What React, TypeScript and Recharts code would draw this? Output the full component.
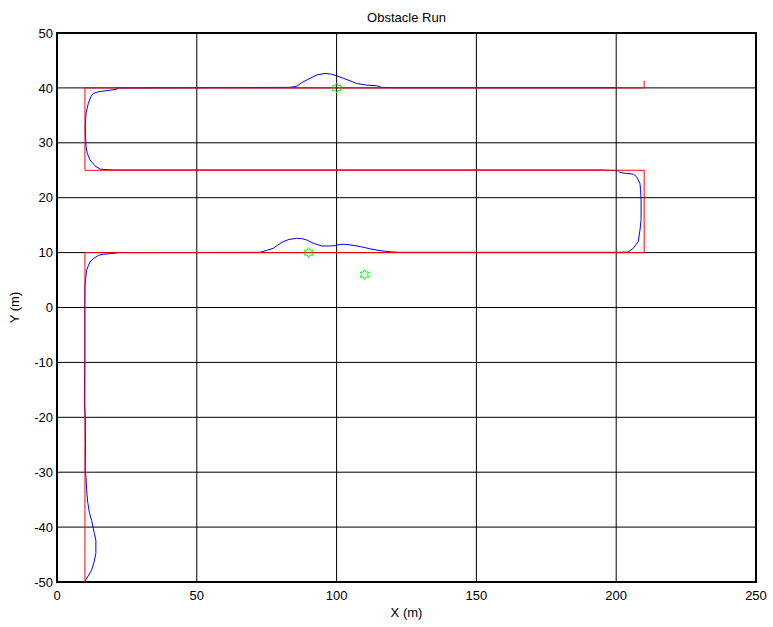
import React from 'react';
import { ComposedChart, Line, Scatter, XAxis, YAxis, CartesianGrid, ReferenceArea } from 'recharts';

const xTicks = [0, 50, 100, 150, 200, 250];
const yTicks = [-50, -40, -30, -20, -10, 0, 10, 20, 30, 40, 50];

const referencePath = [
  { x: 10, y: -50 }, { x: 10, y: 10 }, { x: 210, y: 10 }, { x: 210, y: 25 },
  { x: 10, y: 25 }, { x: 10, y: 40 }, { x: 210, y: 40 }, { x: 210, y: 41.3 },
];

const robotPath = [
  { x: 9.9, y: -50 }, { x: 10.3, y: -49.6 }, { x: 11.5, y: -48.6 }, { x: 12.4, y: -47.8 },
  { x: 13.2, y: -46.5 }, { x: 13.9, y: -44.8 }, { x: 13.9, y: -42.4 }, { x: 13.4, y: -41.2 },
  { x: 13.0, y: -40.3 }, { x: 12.4, y: -38.8 }, { x: 11.6, y: -37.4 }, { x: 11.0, y: -35.5 },
  { x: 10.6, y: -33.2 }, { x: 10.4, y: -31 }, { x: 10.1, y: -29.5 }, { x: 10.2, y: -25 },
  { x: 10.1, y: -20 }, { x: 9.8, y: -17.4 }, { x: 9.9, y: -10 }, { x: 9.9, y: 0 },
  { x: 10.0, y: 4.1 }, { x: 10.3, y: 5.5 }, { x: 10.6, y: 6.8 }, { x: 11.2, y: 7.6 },
  { x: 11.8, y: 8.3 }, { x: 13.0, y: 8.9 }, { x: 14.8, y: 9.5 }, { x: 16.6, y: 9.7 },
  { x: 20.1, y: 9.85 }, { x: 22, y: 10 }, { x: 72.6, y: 10.05 }, { x: 75, y: 10.4 },
  { x: 77.4, y: 10.8 }, { x: 79, y: 11.4 }, { x: 80.9, y: 12.0 }, { x: 83, y: 12.4 },
  { x: 85.7, y: 12.6 }, { x: 87.5, y: 12.55 }, { x: 89.3, y: 12.3 }, { x: 91.7, y: 11.7 },
  { x: 94.7, y: 11.2 }, { x: 97, y: 11.2 }, { x: 99.4, y: 11.25 }, { x: 101.2, y: 11.5 },
  { x: 103, y: 11.5 }, { x: 104.8, y: 11.4 }, { x: 108.4, y: 11.1 }, { x: 111.9, y: 10.7 },
  { x: 115.5, y: 10.35 }, { x: 119.1, y: 10.15 }, { x: 122, y: 10.05 }, { x: 150, y: 10.05 },
  { x: 200, y: 10.05 }, { x: 204.3, y: 10.1 }, { x: 206.1, y: 10.8 }, { x: 207.9, y: 12 },
  { x: 208.5, y: 14.1 }, { x: 208.9, y: 16 }, { x: 208.9, y: 19.6 }, { x: 208.7, y: 21.5 },
  { x: 208.5, y: 22.6 }, { x: 207.3, y: 23.8 }, { x: 206.1, y: 24.3 }, { x: 203.7, y: 24.4 },
  { x: 201.4, y: 24.6 }, { x: 200.7, y: 24.9 }, { x: 195, y: 25.05 }, { x: 150, y: 25.05 },
  { x: 100, y: 25.05 }, { x: 20, y: 25.05 }, { x: 15.4, y: 25.2 }, { x: 13.6, y: 25.8 },
  { x: 11.8, y: 26.9 }, { x: 10.8, y: 28.1 }, { x: 10.4, y: 29.3 }, { x: 10.1, y: 32.9 },
  { x: 10.4, y: 35.4 }, { x: 11.2, y: 37.2 }, { x: 12.1, y: 38.4 }, { x: 13.0, y: 39.0 },
  { x: 14.8, y: 39.3 }, { x: 17.8, y: 39.5 }, { x: 21.3, y: 39.75 }, { x: 22, y: 40 },
  { x: 83.3, y: 40.1 }, { x: 85.7, y: 40.3 }, { x: 87.5, y: 40.95 }, { x: 90.5, y: 41.75 },
  { x: 92.9, y: 42.35 }, { x: 95.9, y: 42.65 }, { x: 98.2, y: 42.5 }, { x: 100, y: 42.2 },
  { x: 102.4, y: 41.75 }, { x: 104.8, y: 41.3 }, { x: 107.2, y: 40.8 }, { x: 110.8, y: 40.5 },
  { x: 114.3, y: 40.4 }, { x: 116.1, y: 40.1 }, { x: 120, y: 40.05 }, { x: 200, y: 40.05 },
];

const obstacles = [
  { x: 100, y: 40 },
  { x: 90, y: 10 },
  { x: 110, y: 6 },
];

const FONT = '"Liberation Sans", Arial, Helvetica, sans-serif';

const Hexagram = (props: any) => {
  const { cx, cy } = props;
  if (cx == null || cy == null) return null;
  const R = 5;
  const r = R / Math.sqrt(3);
  const pts: string[] = [];
  for (let i = 0; i < 12; i++) {
    const a = ((-90 + 30 * i) * Math.PI) / 180;
    const rad = i % 2 === 0 ? R : r;
    pts.push(`${(cx + rad * Math.cos(a)).toFixed(2)},${(cy + rad * Math.sin(a)).toFixed(2)}`);
  }
  return <polygon points={pts.join(' ')} fill="none" stroke="#00ff00" strokeWidth={1} />;
};

const XLabel = (props: any) => {
  const vb = props.viewBox || {};
  const cx = vb.x + vb.width / 2;
  return (
    <text x={cx} y={vb.y + 35} textAnchor="middle" fontSize={13} fontFamily={FONT} fill="#000">
      X (m)
    </text>
  );
};

const YLabel = (props: any) => {
  const vb = props.viewBox || {};
  const cy = vb.y + vb.height / 2;
  const x = 19;
  return (
    <text x={x} y={cy} textAnchor="middle" fontSize={13} fontFamily={FONT} fill="#000" transform={`rotate(-90 ${x} ${cy})`}>
      Y (m)
    </text>
  );
};

export default function App() {
  const tickStyle = { fontSize: 13, fontFamily: FONT, fill: '#000' };
  return (
    <div style={{ position: 'absolute', left: 0, top: 0, width: 773, height: 627, background: '#fff' }}>
      <div
        style={{
          position: 'absolute', left: 57, top: 10, width: 699, textAlign: 'center',
          fontFamily: FONT, fontSize: 13, lineHeight: '15px', color: '#000',
        }}
      >
        Obstacle Run
      </div>
      <ComposedChart width={773} height={627} margin={{ top: 33, right: 17, bottom: 0, left: 0 }}>
        <CartesianGrid stroke="#000" strokeWidth={1} />
        <XAxis
          type="number"
          dataKey="x"
          domain={[0, 250]}
          ticks={xTicks}
          allowDataOverflow
          height={45}
          axisLine={false}
          tickLine={false}
          tickSize={0}
          tickMargin={9}
          tick={tickStyle}
          interval={0}
          label={<XLabel />}
        />
        <YAxis
          type="number"
          dataKey="y"
          domain={[-50, 50]}
          ticks={yTicks}
          allowDataOverflow
          width={57}
          axisLine={false}
          tickLine={false}
          tickSize={0}
          tickMargin={4}
          tick={tickStyle}
          interval={0}
          label={<YLabel />}
        />
        <Line
          data={robotPath}
          dataKey="y"
          type="linear"
          stroke="#0000ff"
          strokeWidth={1}
          dot={false}
          activeDot={false}
          isAnimationActive={false}
        />
        <Line
          data={referencePath}
          dataKey="y"
          type="linear"
          stroke="#ff0000"
          strokeWidth={1}
          dot={false}
          activeDot={false}
          isAnimationActive={false}
        />
        <Scatter data={obstacles} dataKey="y" shape={<Hexagram />} isAnimationActive={false} />
        <ReferenceArea x1={0} x2={250} y1={-50} y2={50} fill="none" stroke="#000" strokeWidth={2} />
      </ComposedChart>
    </div>
  );
}
